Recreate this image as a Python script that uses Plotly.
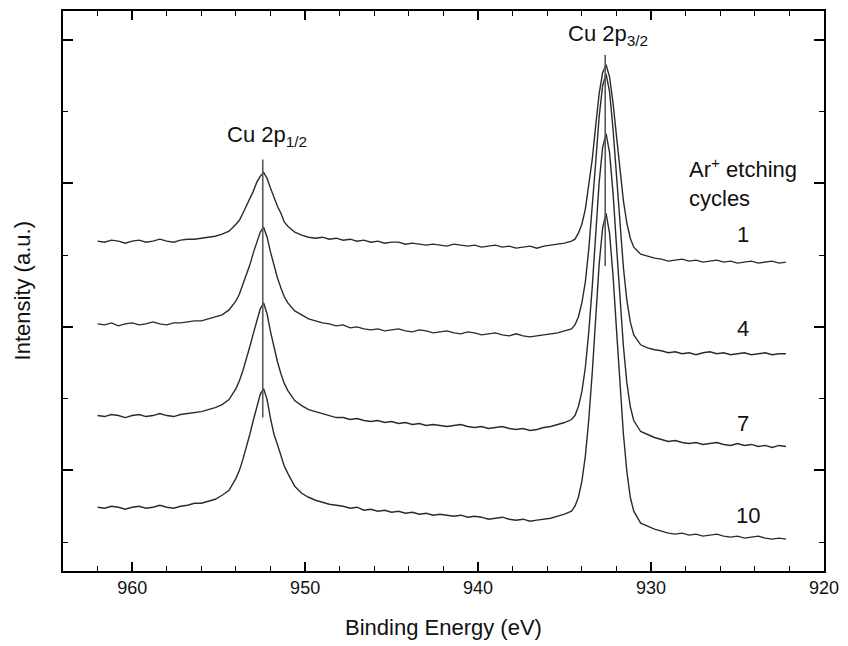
import plotly.graph_objects as go

# Binding energy grid (eV)
energy = [
    962.0, 961.6, 961.2, 960.8, 960.4, 960.0, 959.6, 959.2, 958.8, 958.4, 958.0,
    957.6, 957.2, 956.8, 956.4, 956.0, 955.6, 955.2, 954.8, 954.4, 954.0,
    953.8, 953.6, 953.4, 953.2, 953.0, 952.8, 952.6, 952.4, 952.2, 952.0,
    951.8, 951.6, 951.4, 951.2, 951.0,
    950.6, 950.2, 949.8, 949.4, 949.0, 948.6, 948.2, 947.8, 947.4, 947.0,
    946.6, 946.2, 945.8, 945.4, 945.0, 944.6, 944.2, 943.8, 943.4, 943.0,
    942.6, 942.2, 941.8, 941.4, 941.0, 940.6, 940.2, 939.8, 939.4, 939.0,
    938.6, 938.2, 937.8, 937.4, 937.0, 936.6, 936.2, 935.8, 935.4, 935.0, 934.6,
    934.4, 934.2, 934.0, 933.8, 933.6, 933.4, 933.2, 933.0, 932.8, 932.6,
    932.4, 932.2, 932.0, 931.8, 931.6, 931.4, 931.2, 931.0,
    930.6, 930.2, 929.8, 929.4, 929.0, 928.6, 928.2, 927.8, 927.4, 927.0,
    926.6, 926.2, 925.8, 925.4, 925.0, 924.6, 924.2, 923.8, 923.4, 923.0,
    922.6, 922.2,
]

# Intensity (a.u., stacked) after 1, 4, 7 and 10 Ar+ etching cycles
cycle_1 = [
    331, 330, 332, 331, 329, 331, 332, 330, 331, 333, 331,
    330, 332, 333, 333, 334, 335, 336, 338, 341, 348,
    352, 359, 366, 373, 381, 390, 396, 400, 394, 384,
    374, 366, 359, 350, 346,
    340, 337, 335, 334, 335, 333, 334, 332, 333, 331,
    332, 330, 331, 329, 330, 330, 328, 329, 328, 327,
    328, 327, 326, 328, 327, 326, 327, 325, 326, 327,
    325, 326, 324, 325, 326, 324, 326, 327, 328, 329, 331,
    333, 339, 348, 363, 386, 413, 447, 479, 500, 508,
    496, 470, 437, 401, 372, 349, 334, 325,
    318, 316, 314, 313, 311, 312, 313, 311, 312, 310,
    311, 312, 310, 311, 309, 310, 311, 309, 310, 311,
    309, 310,
]
cycle_4 = [
    248, 247, 249, 246, 248, 249, 247, 248, 250, 248, 247,
    249, 249, 250, 251, 251, 253, 255, 257, 262, 271,
    278, 287, 296, 307, 319, 330, 340, 345, 335, 320,
    306, 294, 284, 275, 269,
    261, 257, 253, 251, 249, 248, 246, 247, 244, 245,
    243, 242, 243, 241, 242, 243, 241, 240, 242, 241,
    239, 240, 241, 239, 238, 240, 239, 237, 238, 239,
    237, 236, 238, 236, 235, 236, 237, 238, 239, 241, 243,
    247, 255, 269, 290, 323, 363, 410, 456, 487, 499,
    481, 444, 397, 347, 305, 272, 250, 237,
    227, 224, 222, 221, 219, 220, 218, 219, 217, 219,
    220, 218, 219, 217, 218, 219, 217, 218, 219, 217,
    218, 218,
]
cycle_7 = [
    156, 155, 157, 156, 154, 156, 157, 155, 156, 158, 156,
    155, 157, 158, 159, 160, 162, 164, 167, 172, 183,
    191, 201, 212, 225, 238, 252, 263, 269, 258, 240,
    224, 210, 198, 188, 181,
    171, 166, 162, 160, 158, 156, 154, 154, 152, 153,
    151, 150, 151, 149, 150, 148, 149, 147, 148, 146,
    147, 146, 145, 146, 147, 145, 144, 145, 143, 144,
    145, 143, 142, 143, 141, 142, 144, 145, 147, 149, 152,
    156, 165, 180, 204, 240, 285, 339, 390, 425, 439,
    420, 380, 327, 272, 226, 189, 165, 151,
    140, 137, 134, 132, 130, 131, 129, 128, 129, 127,
    128, 129, 127, 126, 128, 126, 127, 125, 126, 124,
    126, 125,
]
cycle_10 = [
    64, 63, 65, 64, 62, 64, 65, 63, 64, 66, 64,
    63, 65, 66, 68, 68, 70, 72, 76, 81, 93,
    101, 112, 124, 137, 151, 165, 177, 183, 172, 153,
    137, 127, 116, 105, 98,
    85, 78, 74, 71, 69, 67, 66, 65, 63, 64,
    61, 62, 60, 61, 59, 60, 58, 59, 57, 58,
    56, 57, 56, 55, 56, 54, 55, 54, 52, 53,
    54, 52, 51, 52, 50, 51, 52, 53, 55, 57, 60,
    65, 74, 90, 115, 152, 199, 255, 308, 344, 359,
    339, 297, 243, 186, 138, 100, 74, 60,
    48, 45, 42, 40, 38, 37, 38, 36, 37, 35,
    36, 37, 35, 34, 35, 33, 34, 35, 33, 32,
    33, 32,
]

series_names = ["1", "4", "7", "10"]
series_values = [cycle_1, cycle_4, cycle_7, cycle_10]

# Peak position markers (eV) and their vertical extent (a.u.)
peak_2p12_x = [952.45, 952.45]
peak_2p12_y = [413, 154]
peak_2p32_x = [932.65, 932.65]
peak_2p32_y = [518, 306]

# Label positions
cycle_label_x = [924.7, 924.7, 924.7, 924.4]
cycle_label_y = [338, 243, 148, 56]

FONT = "Liberation Sans, Arial, Helvetica, sans-serif"

fig = go.Figure()
for name, vals in zip(series_names, series_values):
    fig.add_trace(go.Scatter(
        x=energy, y=vals, mode="lines", name=name,
        line=dict(color="#2a2a2a", width=1.4), showlegend=False,
    ))

fig.add_trace(go.Scatter(x=peak_2p12_x, y=peak_2p12_y, mode="lines",
                         line=dict(color="#5a5a5a", width=1.6), showlegend=False))
fig.add_trace(go.Scatter(x=peak_2p32_x, y=peak_2p32_y, mode="lines",
                         line=dict(color="#5a5a5a", width=1.6), showlegend=False))

annotations = [
    dict(x=952.2, y=420, xref="x", yref="y", text="Cu 2p<sub>1/2</sub>",
         showarrow=False, xanchor="center", yanchor="bottom",
         font=dict(family=FONT, size=22, color="#111")),
    dict(x=932.47, y=522, xref="x", yref="y", text="Cu 2p<sub>3/2</sub>",
         showarrow=False, xanchor="center", yanchor="bottom",
         font=dict(family=FONT, size=22, color="#111")),
    dict(x=927.95, y=404, xref="x", yref="y", text="Ar<sup>+</sup> etching",
         showarrow=False, xanchor="left", yanchor="middle",
         font=dict(family=FONT, size=22, color="#111")),
    dict(x=927.95, y=374, xref="x", yref="y", text="cycles",
         showarrow=False, xanchor="left", yanchor="middle",
         font=dict(family=FONT, size=22, color="#111")),
    dict(x=0.5, y=-0.101, xref="paper", yref="paper", text="Binding Energy (eV)",
         showarrow=False, xanchor="center", yanchor="middle",
         font=dict(family=FONT, size=22, color="#111")),
    dict(x=-0.0533, y=0.5, xref="paper", yref="paper", text="Intensity (a.u.)",
         showarrow=False, xanchor="center", yanchor="middle", textangle=-90,
         font=dict(family=FONT, size=22, color="#111")),
]
for nm, lx, ly in zip(series_names, cycle_label_x, cycle_label_y):
    annotations.append(dict(x=lx, y=ly, xref="x", yref="y", text=nm,
                            showarrow=False, xanchor="center", yanchor="middle",
                            font=dict(family=FONT, size=22, color="#111")))

fig.update_layout(
    width=848, height=646,
    margin=dict(l=63, r=16, t=9, b=75),
    paper_bgcolor="white", plot_bgcolor="white",
    showlegend=False,
    annotations=annotations,
    xaxis=dict(
        range=[964, 920], showgrid=False, zeroline=False,
        showline=True, linecolor="black", linewidth=1.5, mirror="allticks",
        ticks="inside", ticklen=9, tickwidth=1.5, tickcolor="black",
        tickmode="linear", tick0=920, dtick=10,
        tickfont=dict(family=FONT, size=18, color="#111"),
        minor=dict(ticks="inside", ticklen=5, tickwidth=1.2, tickcolor="black",
                   tick0=920, dtick=2),
    ),
    yaxis=dict(
        range=[0, 562], showgrid=False, zeroline=False,
        showline=True, linecolor="black", linewidth=1.5, mirror="allticks",
        ticks="inside", ticklen=10, tickwidth=1.5, tickcolor="black",
        tickmode="linear", tick0=101, dtick=144, showticklabels=False,
        minor=dict(ticks="inside", ticklen=5, tickwidth=1.2, tickcolor="black",
                   tick0=29, dtick=72),
    ),
)

# Remove the browser's default body margin so the figure fills the window.
fig.write_html(
    "out.html",
    config={"displayModeBar": False},
    post_script="document.body.style.margin='0px';document.body.style.overflow='hidden';",
)
